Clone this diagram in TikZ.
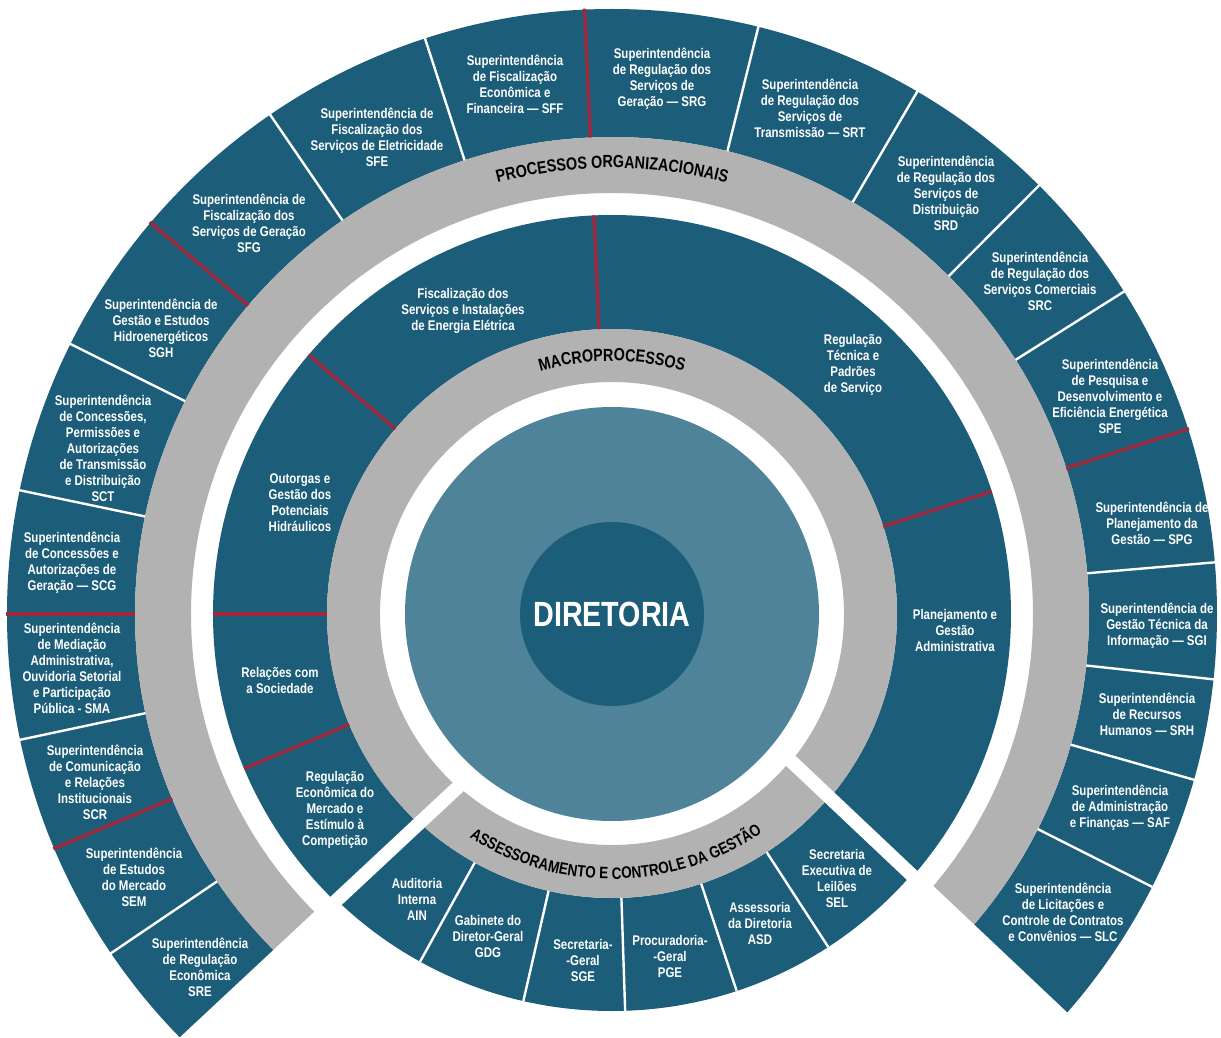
\documentclass[tikz,border=0pt]{standalone}
\usepackage{fontspec}
\setmainfont{Liberation Sans}
\newfontfamily\narrow[FakeStretch=0.82]{Liberation Sans}
\usetikzlibrary{decorations.text}
\definecolor{dteal}{HTML}{1C5D79}
\definecolor{lteal}{HTML}{4E8399}
\definecolor{ringgray}{HTML}{B2B2B2}
\definecolor{dred}{HTML}{A0283C}
\newcommand\arcfont{\narrow\bfseries\fontsize{17.5}{18}\selectfont\color{black}}
\newcommand\arcfontb{\narrow\bfseries\fontsize{16.5}{17}\selectfont\color{black}}
\begin{document}
\begin{tikzpicture}[x=1pt,y=1pt,
  lab/.style={text=white, align=center, inner sep=0pt, font=\narrow\bfseries\fontsize{14}{16}\selectfont},
  wdiv/.style={draw=white, line width=2.4pt},
  rdiv/.style={draw=dred, line width=3.4pt},
  band/.style={even odd rule}
]
\useasboundingbox (-612,-423) rectangle (609,614);
\fill[white] (-612,-423) rectangle (609,614);
% ---------- macro side (upper part) ----------
\begin{scope}
  \clip (27.4,5.8) -- (-701.6,-674.6) -- (-800,800) -- (800,800) -- (729.4,-657.2) -- cycle;
  \fill[dteal,band] (0,0) circle[radius=605] (0,0) circle[radius=477];
  \fill[ringgray,band] (0,0) circle[radius=477] (0,0) circle[radius=421];
  \fill[dteal,band] (0,0) circle[radius=399] (0,0) circle[radius=285];
  \fill[ringgray,band] (0,0) circle[radius=285] (0,0) circle[radius=232];
\end{scope}
% ---------- assessoramento (bottom part) ----------
\begin{scope}
  \clip (27.3,-13.4) -- (-701.7,-693.8) -- (756.3,-701.9) -- cycle;
  \fill[dteal,band] (0,0) circle[radius=397] (0,0) circle[radius=284];
  \fill[ringgray,band] (0,0) circle[radius=284] (0,0) circle[radius=231];
\end{scope}
% ---------- dividers ----------
\foreach \a in {214.1,192,168.2,153.5,124.4,108,76,59.7,45.1,32.2,4.9,-6.2,-15.9,-26.8}
  \draw[wdiv] (\a:477) -- (\a:606);
\foreach \a in {202.8,180,139.7,92.6,17.8}
  \draw[rdiv] (\a:477) -- (\a:606);
\foreach \a in {202.8,180,139.5,92.6,17.9}
  \draw[rdiv] (\a:285) -- (\a:399);
\foreach \a in {241.1,257.1,271.9,288.3,303}
  \draw[wdiv] (\a:284) -- (\a:397);
% ---------- centre ----------
\fill[lteal] (0,0) circle[radius=207];
\node[circle, fill=dteal, minimum size=184pt, inner sep=0pt, text=white,
      font=\narrow\bfseries\fontsize{35}{35}\selectfont] (dir) at (0,0) {DIRETORIA};
% ---------- arc titles ----------
\path[decorate, decoration={text along path, text align=center,
   text={|\arcfont|PROCESSOS ORGANIZACIONAIS}}]
   (160:446) arc[start angle=160, end angle=20, radius=446];
\path[decorate, decoration={text along path, text align=center,
   text={|\arcfont|MACROPROCESSOS}}]
   (170:253) arc[start angle=170, end angle=10, radius=253];
\path[decorate, decoration={text along path, text align=center,
   text={|\arcfontb|ASSESSORAMENTO E CONTROLE DA GESTÃO}}]
   (200:265) arc[start angle=200, end angle=342, radius=265];
% ---------- outer ring labels ----------
\node[lab] (sre) at (-412,-353) {Superintendência\\de Regulação\\Econômica\\SRE};
\node[lab] (sem) at (-478,-263) {Superintendência\\de Estudos\\do Mercado\\SEM};
\node[lab] (scr) at (-517,-168) {Superintendência\\de Comunicação\\e Relações\\Institucionais\\SCR};
\node[lab] (sma) at (-540,-54) {Superintendência\\de Mediação\\Administrativa,\\Ouvidoria Setorial\\e Participação\\Pública - SMA};
\node[lab] (scg) at (-540,51) {Superintendência\\de Concessões e\\Autorizações de\\Geração — SCG};
\node[lab] (sct) at (-509,166) {Superintendência\\de Concessões,\\Permissões e\\Autorizações\\de Transmissão\\e Distribuição\\SCT};
\node[lab] (sgh) at (-451,286) {Superintendência de\\Gestão e Estudos\\Hidroenergéticos\\SGH};
\node[lab] (sfg) at (-363,391) {Superintendência de\\Fiscalização dos\\Serviços de Geração\\SFG};
\node[lab] (sfe) at (-235,477) {Superintendência de\\Fiscalização dos\\Serviços de Eletricidade\\SFE};
\node[lab] (sff) at (-97,530) {Superintendência\\de Fiscalização\\Econômica e\\Financeira — SFF};
\node[lab] (srg) at (50,535) {Superintendência\\de Regulação dos\\Serviços de\\Geração — SRG};
\node[lab] (srt) at (198,506) {Superintendência\\de Regulação dos\\Serviços de\\Transmissão — SRT};
\node[lab] (srd) at (334,421) {Superintendência\\de Regulação dos\\Serviços de\\Distribuição\\SRD};
\node[lab] (src) at (428,333) {Superintendência\\de Regulação dos\\Serviços Comerciais\\SRC};
\node[lab] (spe) at (498,218) {Superintendência\\de Pesquisa e\\Desenvolvimento e\\Eficiência Energética\\SPE};
\node[lab] (spg) at (540,91) {Superintendência de\\Planejamento da\\Gestão — SPG};
\node[lab] (sgi) at (545,-12) {Superintendência de\\Gestão Técnica da\\Informação — SGI};
\node[lab] (srh) at (535,-100) {Superintendência\\de Recursos\\Humanos — SRH};
\node[lab] (saf) at (508,-194) {Superintendência\\de Administração\\e Finanças — SAF};
\node[lab] (slc) at (451,-298) {Superintendência\\de Licitações e\\Controle de Contratos\\e Convênios — SLC};
% ---------- macroprocess labels ----------
\node[lab] (fis) at (-149,303) {Fiscalização dos\\Serviços e Instalações\\de Energia Elétrica};
\node[lab] (rtp) at (241,249) {Regulação\\Técnica e\\Padrões\\de Serviço};
\node[lab] (pga) at (343,-16) {Planejamento e\\Gestão\\Administrativa};
\node[lab] (ogp) at (-312,111) {Outorgas e\\Gestão dos\\Potenciais\\Hidráulicos};
\node[lab] (rso) at (-332,-66) {Relações com\\a Sociedade};
\node[lab] (rem) at (-277,-196) {Regulação\\Econômica do\\Mercado e\\Estímulo à\\Competição};
% ---------- assessoramento labels ----------
\node[lab] (ain) at (-195,-285) {Auditoria\\Interna\\AIN};
\node[lab] (gdg) at (-124,-322) {Gabinete do\\Diretor-Geral\\GDG};
\node[lab] (sge) at (-29,-346) {Secretaria-\\-Geral\\SGE};
\node[lab] (pge) at (58,-342) {Procuradoria-\\-Geral\\PGE};
\node[lab] (asd) at (148,-309) {Assessoria\\da Diretoria\\ASD};
\node[lab] (sel) at (225,-264) {Secretaria\\Executiva de\\Leilões\\SEL};
\end{tikzpicture}
\end{document}
